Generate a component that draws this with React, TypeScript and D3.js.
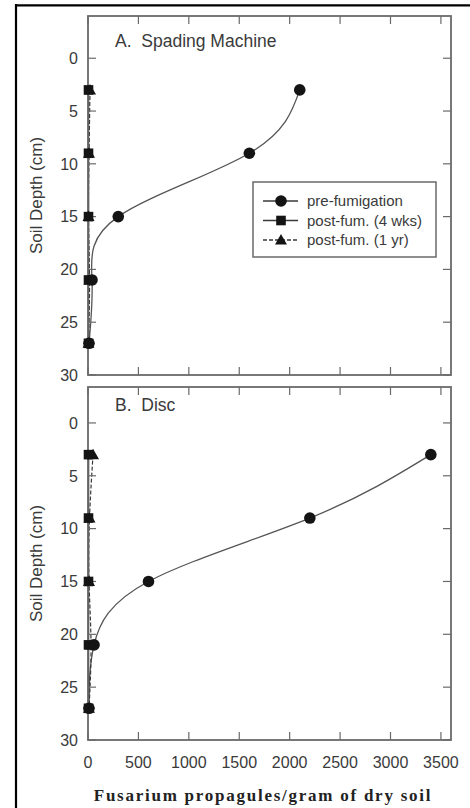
import React from "react";
import * as d3 from "d3";

const depths = [3, 9, 15, 21, 27];
const preA = [2100, 1600, 300, 40, 10];
const wk4A = [5, 5, 5, 5, 5];
const yr1A = [20, 10, 5, 15, 5];
const preB = [3400, 2200, 600, 60, 10];
const wk4B = [5, 5, 5, 5, 5];
const yr1B = [50, 15, 10, 30, 10];
const xTicks = [0, 500, 1000, 1500, 2000, 2500, 3000, 3500];
const yTicks = [0, 5, 10, 15, 20, 25, 30];
const legendLabels = ["pre-fumigation", "post-fum. (4 wks)", "post-fum. (1 yr)"];
const panelTitles = ["A.  Spading Machine", "B.  Disc"];

const W = 470;
const H = 808;
const plotLeft = 88;
const plotRight = 451;
const axisColor = "#6a6a6a";
const textColor = "#3a3a3a";
const markColor = "#141414";
const sans = "'Liberation Sans', Arial, sans-serif";

const x = d3.scaleLinear().domain([0, 3600]).range([plotLeft, plotRight]);

type Panel = {
  top: number;
  bottom: number;
  yMin: number;
  title: string;
  pre: number[];
  wk4: number[];
  yr1: number[];
  showX: boolean;
  legend: boolean;
};

const panels: Panel[] = [
  { top: 16, bottom: 375, yMin: -4, title: panelTitles[0], pre: preA, wk4: wk4A, yr1: yr1A, showX: false, legend: true },
  { top: 387, bottom: 740, yMin: -3.4, title: panelTitles[1], pre: preB, wk4: wk4B, yr1: yr1B, showX: true, legend: false },
];

function Marker({ kind, cx, cy }: { kind: number; cx: number; cy: number }) {
  if (kind === 0) return <circle cx={cx} cy={cy} r={5.8} fill={markColor} />;
  if (kind === 1) return <rect x={cx - 4.8} y={cy - 4.8} width={9.6} height={9.6} fill={markColor} />;
  const s = 6;
  return (
    <path
      d={`M${cx},${cy - s} L${cx + s},${cy + s * 0.75} L${cx - s},${cy + s * 0.75} Z`}
      fill={markColor}
    />
  );
}

function PanelView({ p }: { p: Panel }) {
  const y = d3.scaleLinear().domain([p.yMin, 30]).range([p.top, p.bottom]);
  const line = (vals: number[]) =>
    d3
      .line<number>()
      .x((v) => x(v))
      .y((_, i) => y(depths[i]))
      .curve(d3.curveNatural)(vals) || "";
  const series = [p.pre, p.wk4, p.yr1];
  const tickLen = 8;
  return (
    <g>
      <path d={line(p.pre)} fill="none" stroke="#555" strokeWidth={1.3} />
      <path d={line(p.wk4)} fill="none" stroke="#2a2a2a" strokeWidth={1.5} />
      <path d={line(p.yr1)} fill="none" stroke="#3a3a3a" strokeWidth={1.2} strokeDasharray="4,2" />
      <rect
        x={plotLeft}
        y={p.top}
        width={plotRight - plotLeft}
        height={p.bottom - p.top}
        fill="none"
        stroke={axisColor}
        strokeWidth={1.8}
      />
      {yTicks.map((t) => (
        <g key={"y" + t}>
          <line x1={plotLeft} x2={plotLeft + tickLen} y1={y(t)} y2={y(t)} stroke={axisColor} strokeWidth={1.2} />
          <line x1={plotRight} x2={plotRight - tickLen} y1={y(t)} y2={y(t)} stroke={axisColor} strokeWidth={1.2} />
          <text
            x={plotLeft - 10}
            y={y(t)}
            dy="0.36em"
            textAnchor="end"
            fontFamily={sans}
            fontSize={16}
            fill={textColor}
          >
            {t}
          </text>
        </g>
      ))}
      {xTicks.map((t) => (
        <g key={"x" + t}>
          <line x1={x(t)} x2={x(t)} y1={p.bottom} y2={p.bottom - tickLen} stroke={axisColor} strokeWidth={1.2} />
          <line x1={x(t)} x2={x(t)} y1={p.top} y2={p.top + tickLen} stroke={axisColor} strokeWidth={1.2} />
          {p.showX && (
            <text
              x={x(t)}
              y={p.bottom + 28}
              textAnchor="middle"
              fontFamily={sans}
              fontSize={16}
              fill={textColor}
            >
              {t}
            </text>
          )}
        </g>
      ))}
      {[2, 1, 0].map((k) =>
        series[k].map((v, i) => <Marker key={k + "-" + i} kind={k} cx={x(v)} cy={y(depths[i])} />)
      )}
      <text
        x={plotLeft + 27}
        y={y(0) - 11.5}
        fontFamily={sans}
        fontSize={17.5}
        fill={textColor}
        style={{ whiteSpace: "pre" }}
        xmlSpace="preserve"
      >
        {p.title}
      </text>
      <text
        transform={`translate(${36},${(p.top + p.bottom) / 2}) rotate(-90)`}
        textAnchor="middle"
        dy="0.35em"
        fontFamily={sans}
        fontSize={17}
        fill={textColor}
      >
        Soil Depth (cm)
      </text>
      {p.legend && (
        <g>
          <rect x={253} y={182} width={183} height={75} fill="white" stroke={axisColor} strokeWidth={1.5} />
          {legendLabels.map((lab, i) => {
            const ly = 201 + i * 19.5;
            return (
              <g key={lab}>
                <line
                  x1={263}
                  x2={298}
                  y1={ly}
                  y2={ly}
                  stroke="#3a3a3a"
                  strokeWidth={1.3}
                  strokeDasharray={i === 2 ? "4,2" : undefined}
                />
                <Marker kind={i} cx={281} cy={ly} />
                <text x={307} y={ly} dy="0.36em" fontFamily={sans} fontSize={15} fill={textColor}>
                  {lab}
                </text>
              </g>
            );
          })}
        </g>
      )}
    </g>
  );
}

export default function App() {
  return (
    <svg
      width={W}
      height={H}
      viewBox={`0 0 ${W} ${H}`}
      style={{ position: "absolute", left: 0, top: 0, background: "white" }}
    >
      <rect x={0} y={0} width={W} height={H} fill="white" />
      <line x1={16} x2={16} y1={4} y2={H} stroke="#000" strokeWidth={2.2} />
      <line x1={15} x2={W} y1={5.3} y2={5.3} stroke="#000" strokeWidth={2.2} />
      {panels.map((p, i) => (
        <PanelView key={i} p={p} />
      ))}
      <text
        x={263}
        y={801}
        textAnchor="middle"
        fontFamily="'Liberation Serif', 'Times New Roman', serif"
        fontWeight="bold"
        fontSize={17}
        letterSpacing={1.75}
        fill="#222"
      >
        Fusarium propagules/gram of dry soil
      </text>
    </svg>
  );
}
